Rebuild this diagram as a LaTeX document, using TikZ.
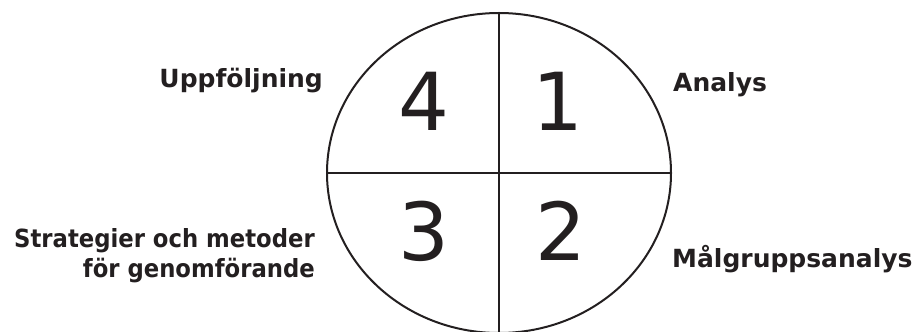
\documentclass[tikz,border=0pt]{standalone}
\usepackage{fontspec}
\setmainfont{DejaVu Sans}
\newfontfamily\narrowlbl[FakeStretch=0.91]{DejaVu Sans}
\definecolor{ink}{HTML}{231F20}
\begin{document}
\begin{tikzpicture}[x=1pt,y=1pt,
  lbl/.style={font=\fontsize{25}{30}\selectfont\bfseries, text=ink, inner sep=0pt},
  narrow/.style={font=\fontsize{25}{30}\selectfont\narrowlbl\bfseries, text=ink, inner sep=0pt},
  digit/.style={font=\fontsize{80}{80}\selectfont, text=ink, inner sep=0pt, anchor=base},
  rim/.style={draw=ink, line width=2pt},
  divider/.style={draw=ink, line width=1.6pt}]
\useasboundingbox (0,0) rectangle (916,332);
\coordinate (c) at (499,159);
\draw[rim] (c) ellipse [x radius=172, y radius=160];
\coordinate (top) at (499,319);
\coordinate (bot) at (499,-1);
\coordinate (lft) at (327,159);
\coordinate (rgt) at (671,159);
\draw[divider] (top) -- (bot);
\draw[divider] (lft) -- (rgt);
\node[digit] (d4) at (424,201) {4};
\node[digit] (d1) at (558,201) {1};
\node[digit] (d3) at (424,71) {3};
\node[digit] (d2) at (561,71) {2};
\node[lbl, anchor=base east] (upp) at (323,244) {Uppföljning};
\node[lbl, anchor=base west] (ana) at (673,240) {Analys};
\node[narrow, anchor=base east] (str) at (315,84) {Strategier och metoder};
\node[narrow, anchor=base east] (gen) at (315,54) {för genomförande};
\node[lbl, anchor=base west] (mal) at (672,64) {Målgruppsanalys};
\end{tikzpicture}
\end{document}
